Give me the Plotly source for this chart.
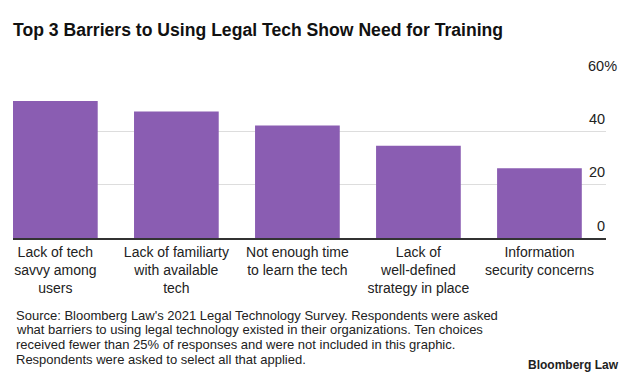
import plotly.graph_objects as go

categories = [
    "Lack of tech<br>savvy among<br>users",
    "Lack of familiarty<br>with available<br>tech",
    "Not enough time<br>to learn the tech",
    "Lack of<br>well-defined<br>strategy in place",
    "Information<br>security concerns",
]
values = [51.4, 47.4, 42.2, 34.6, 26.2]
y_ticks = [0, 20, 40, 60]
y_tick_labels = ["0", "20", "40", "60%"]

title_text = "Top 3 Barriers to Using Legal Tech Show Need for Training"
footnote_lines = [
    "Source: Bloomberg Law's 2021 Legal Technology Survey. Respondents were asked",
    "what barriers to using legal technology existed in their organizations. Ten choices",
    "received fewer than 25% of responses and were not included in this graphic.",
    "Respondents were asked to select all that applied.",
]
brand = "Bloomberg Law"

FONT = "Liberation Sans, Arial, sans-serif"
W, H = 633, 378
ML, MR, MT, MB = 13, 27, 78, 140
plot_bottom = H - MB

fig = go.Figure(
    go.Bar(
        x=list(range(len(categories))),
        y=values,
        marker=dict(color="#8a5db2", line=dict(width=0)),
        width=0.7,
        hoverinfo="skip",
    )
)

annotations = []
# y tick labels (sitting above gridlines, right aligned at plot edge)
for v, lab in zip(y_ticks, y_tick_labels):
    xshift = 12 if lab.endswith("%") else 0
    annotations.append(dict(
        x=1, xref="paper", y=v, yref="y", text=lab, showarrow=False,
        xanchor="right", yanchor="middle", xshift=xshift + 1, yshift=12.5,
        font=dict(family=FONT, size=14.5, color="#222222"),
    ))

foot_y = [315, 329.5, 344, 359]
for line, yp in zip(footnote_lines, foot_y):
    annotations.append(dict(
        x=0, xref="paper", y=0, yref="paper", text=line, showarrow=False,
        xanchor="left", yanchor="middle", xshift=1, yshift=plot_bottom - yp,
        font=dict(family=FONT, size=13, color="#222222"),
    ))

annotations.append(dict(
    x=1, xref="paper", y=0, yref="paper", text="<b>" + brand + "</b>", showarrow=False,
    xanchor="right", yanchor="middle", xshift=15, yshift=plot_bottom - 364.5,
    font=dict(family=FONT, size=12, color="#222222"),
))

fig.update_layout(
    width=W, height=H,
    margin=dict(l=ML, r=MR, t=MT, b=MB, pad=0),
    paper_bgcolor="white", plot_bgcolor="white",
    showlegend=False,
    bargap=0.3,
    title=dict(
        text="<b>" + title_text + "</b>",
        x=0, xref="paper", xanchor="left",
        y=1 - 30 / H, yref="container", yanchor="middle",
        font=dict(family=FONT, size=17.6, color="#111111"),
    ),
    xaxis=dict(
        range=[-0.35, 4.55],
        tickmode="array",
        tickvals=list(range(len(categories))),
        ticktext=categories,
        showgrid=False,
        zeroline=False,
        showline=True, linecolor="#333333", linewidth=1.5,
        ticks="",
        tickfont=dict(family=FONT, size=14, color="#222222"),
        fixedrange=True,
    ),
    yaxis=dict(
        range=[0, 60],
        tickvals=y_ticks,
        showticklabels=False,
        showgrid=True, gridcolor="#dddddd", gridwidth=1,
        zeroline=False,
        showline=False,
        fixedrange=True,
    ),
    annotations=annotations,
)

fig.write_html(
    "out.html",
    include_plotlyjs=True,
    config={"displayModeBar": False},
    post_script="document.body.style.margin='0';document.body.style.overflow='hidden';",
)
